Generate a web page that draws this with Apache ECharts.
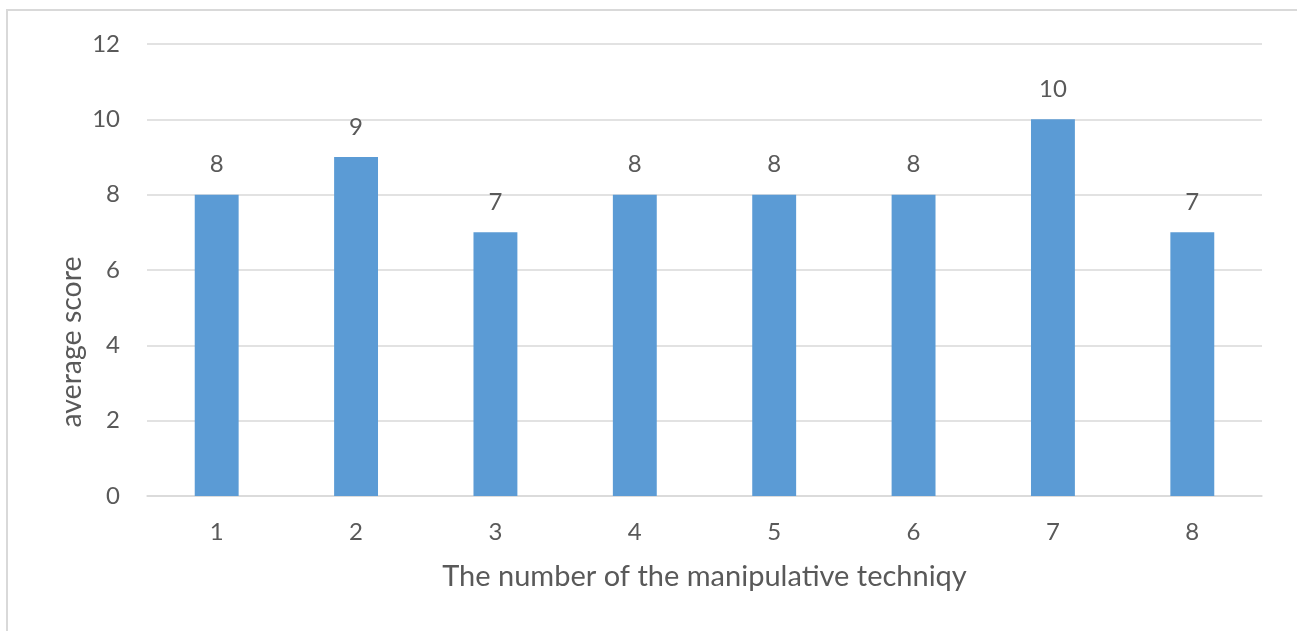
<!DOCTYPE html>
<html>
<head>
<meta charset="utf-8">
<script src="https://cdn.jsdelivr.net/npm/echarts@6/dist/echarts.min.js"></script>
<style>
  html, body { margin: 0; padding: 0; background: #ffffff; }
  #chart { width: 1297px; height: 631px; }
</style>
</head>
<body>
<div id="chart"></div>
<script>
// Average score for each manipulative technique
const categories = ['1', '2', '3', '4', '5', '6', '7', '8'];
const scores = [8, 9, 7, 8, 8, 8, 10, 7];
const yTicks = { min: 0, max: 12, interval: 2 };
const xTitle = 'The number of the manipulative techniqy';
const yTitle = 'average score';

const textColor = '#595959';
const gridColor = '#d9d9d9';
const fontFamily = 'Lato, "Open Sans", sans-serif';

const chart = echarts.init(document.getElementById('chart'), null, { renderer: 'canvas' });

chart.setOption({
  animation: false,
  backgroundColor: '#ffffff',
  graphic: [
    {
      type: 'rect',
      shape: { x: 7, y: 10, width: 1400, height: 700 },
      style: { fill: 'none', stroke: gridColor, lineWidth: 2 },
      silent: true
    },
    {
      type: 'text',
      x: 72,
      y: 342,
      rotation: Math.PI / 2,
      style: {
        text: yTitle,
        fill: textColor,
        font: '28.5px ' + fontFamily,
        textAlign: 'center',
        textVerticalAlign: 'middle'
      }
    }
  ],
  grid: { left: 147, right: 35, top: 44, bottom: 135 },
  xAxis: {
    type: 'category',
    data: categories,
    name: xTitle,
    nameLocation: 'middle',
    nameGap: 66,
    nameTextStyle: { color: textColor, fontSize: 29, fontFamily: fontFamily },
    axisLine: { show: true, lineStyle: { color: gridColor, width: 1.5 } },
    axisTick: { show: false },
    axisLabel: { color: textColor, fontSize: 24, fontFamily: fontFamily, margin: 24 }
  },
  yAxis: {
    type: 'value',
    min: yTicks.min,
    max: yTicks.max,
    interval: yTicks.interval,
    axisLine: { show: false },
    axisTick: { show: false },
    axisLabel: { color: textColor, fontSize: 24, fontFamily: fontFamily, margin: 27 },
    splitLine: { lineStyle: { color: gridColor, width: 1.5 } }
  },
  series: [{
    type: 'bar',
    data: scores,
    barWidth: '31.5%',
    itemStyle: { color: '#5b9bd5' },
    label: {
      show: true,
      position: 'top',
      distance: 18,
      color: textColor,
      fontSize: 24,
      fontFamily: fontFamily
    }
  }]
});
</script>
</body>
</html>
